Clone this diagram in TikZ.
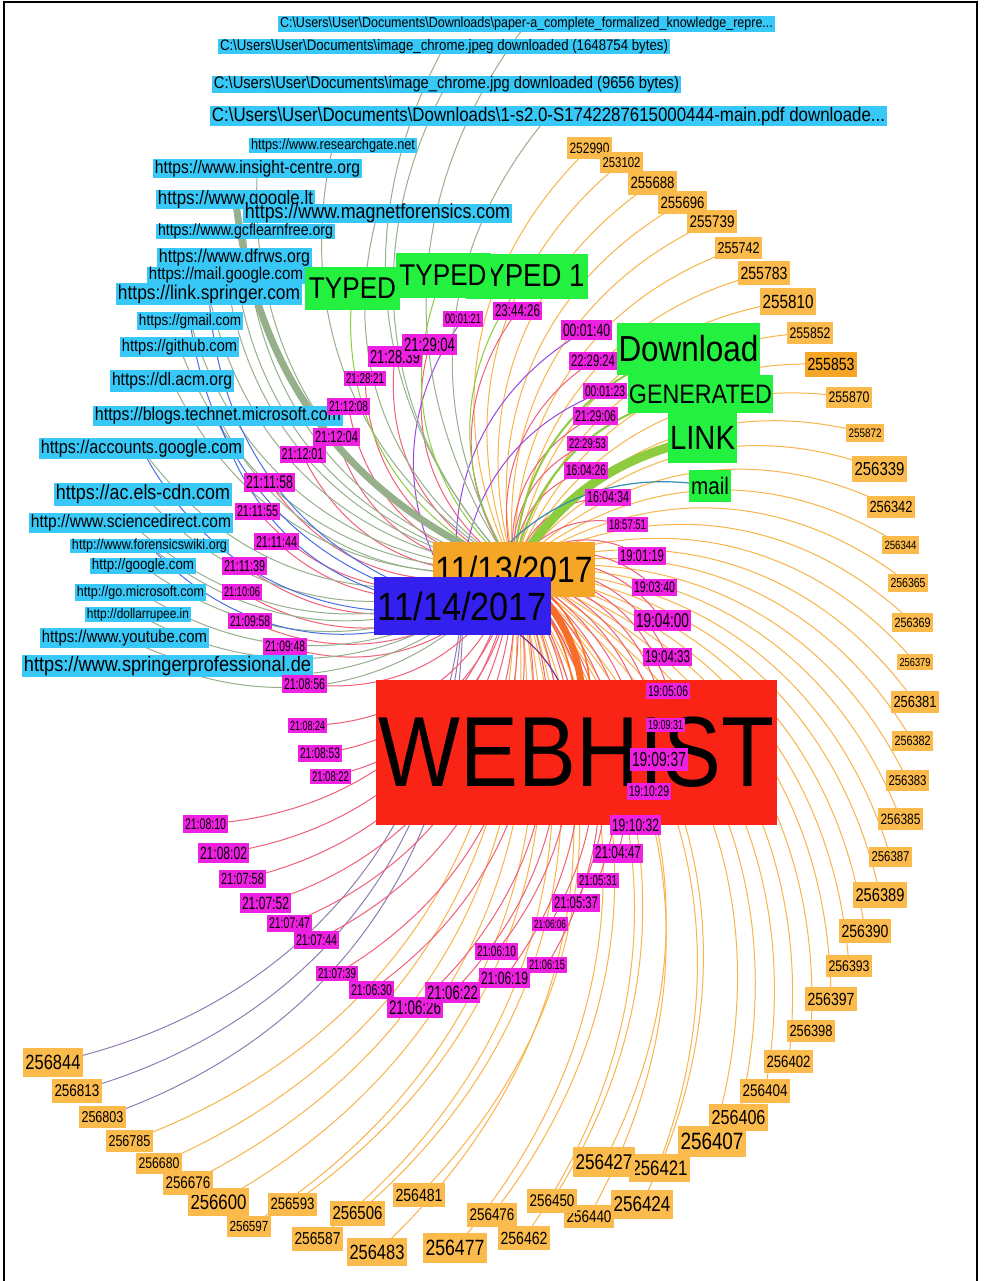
\documentclass[tikz,border=0pt]{standalone}
\usepackage{fontspec}
\setmainfont{Liberation Sans}[FakeStretch=0.87]
\newfontfamily\numfont{Liberation Sans}[FakeStretch=0.8]
\newfontfamily\timefont{Liberation Sans}[FakeStretch=0.68]
\usepackage{graphicx}
\pgfdeclarelayer{wires}
\pgfsetlayers{wires,main}

% node fills
\definecolor{cyanf}{RGB}{56,200,248}
\definecolor{magf}{RGB}{238,32,226}
\definecolor{numf}{RGB}{251,186,76}
\definecolor{grnf}{RGB}{36,240,64}
\definecolor{datef}{RGB}{246,166,38}
\definecolor{bluef}{RGB}{52,32,238}
\definecolor{redf}{RGB}{250,36,22}
% edge colours (blend of the two end colours)
\definecolor{eor}{RGB}{248,180,75}
\definecolor{egr}{RGB}{150,176,140}
\definecolor{epk}{RGB}{240,96,120}
\definecolor{ebl}{RGB}{72,110,228}
\definecolor{epu}{RGB}{150,72,228}
\definecolor{elv}{RGB}{146,124,176}
\definecolor{egn}{RGB}{140,204,62}
\definecolor{etl}{RGB}{52,140,176}
\definecolor{ero}{RGB}{248,110,40}
\definecolor{edk}{RGB}{120,50,150}

\newcommand\bs{\textbackslash}
% generic label: style, name, x, y, box width, box height, text width, text
\newcommand\gnode[8]{\node[#1, minimum width=#5pt, minimum height=#6pt] (#2) at (#3,-#4) {\resizebox{#7pt}{!}{#8}};}
% url label: name, x, y, box width, box height, text
\newcommand\urlnode[6]{\pgfmathsetmacro\tw{#4-4}\gnode{url}{#1}{#2}{#3}{#4}{#5}{\tw}{#6}}
% record number: id, x, y, box width
\newcommand\numnode[4]{\pgfmathsetmacro\hh{0.47*#4}\pgfmathsetmacro\tw{#4-5}\gnode{num}{n#1}{#2}{#3}{#4}{\hh}{\tw}{\numfont #1}}
% time stamp: id, text, x, y, box width
\newcommand\timenode[5]{\pgfmathsetmacro\hh{0.38*#5}\pgfmathsetmacro\tw{#5-4}\gnode{tim}{t#1}{#3}{#4}{#5}{\hh}{\tw}{\timefont #2}}

\begin{document}
\begin{tikzpicture}[x=1pt,y=1pt,
  box/.style={inner sep=0pt, outer sep=0pt, text=black},
  url/.style={box, fill=cyanf},
  num/.style={box, fill=numf},
  tim/.style={box, fill=magf},
  grn/.style={box, fill=grnf},
  wire/.style={line width=1pt, bend left=36},
  wor/.style={wire, draw=eor},
  wgr/.style={wire, draw=egr},
  wpk/.style={wire, draw=epk},
  wbl/.style={wire, draw=ebl},
  wpu/.style={wire, draw=epu},
  wlv/.style={wire, draw=elv},
  wgn/.style={wire, draw=egn},
]
\useasboundingbox (0,0) rectangle (985,-1281);

% ---------- web addresses and downloaded files ----------
\urlnode{rgate}{333}{145.5}{168}{15}{https://www.researchgate.net}
\urlnode{insight}{257.5}{168.5}{209}{19}{https://www.insight-centre.org}
\urlnode{googlelt}{235.5}{199.5}{159}{19}{https://www.google.lt}
\urlnode{magnet}{377.5}{213.5}{269}{18}{https://www.magnetforensics.com}
\urlnode{gcf}{245.5}{231.5}{179}{15}{https://www.gcflearnfree.org}
\urlnode{dfrws}{234.5}{257.5}{155}{19}{https://www.dfrws.org}
\urlnode{mailg}{226}{275.5}{158}{15}{https://mail.google.com}
\urlnode{linkspr}{209}{294}{186}{22}{https://link.springer.com}
\urlnode{gmail}{190}{321}{106}{18}{https://gmail.com}
\urlnode{github}{179.5}{347}{119}{20}{https://github.com}
\urlnode{dlacm}{172}{381}{124}{22}{https://dl.acm.org}
\urlnode{blogs}{218}{416}{250}{20}{https://blogs.technet.microsoft.com}
\urlnode{accounts}{141.5}{448.5}{205}{21}{https://accounts.google.com}
\urlnode{acels}{143}{494.5}{178}{23}{https://ac.els-cdn.com}
\urlnode{scidir}{131}{523}{204}{20}{http://www.sciencedirect.com}
\urlnode{fwiki}{149.5}{546}{159}{14}{http://www.forensicswiki.org}
\urlnode{googlecom}{143}{566}{106}{16}{http://google.com}
\urlnode{gomicro}{140.5}{592.5}{131}{17}{http://go.microsoft.com}
\urlnode{dollar}{138}{614.5}{106}{15}{http://dollarrupee.in}
\urlnode{youtube}{124.5}{638}{169}{20}{https://www.youtube.com}
\urlnode{springerpro}{167.5}{666}{291}{22}{https://www.springerprofessional.de}

\urlnode{fileA}{526.5}{24}{497}{16}{C:\bs Users\bs User\bs Documents\bs Downloads\bs paper-a\_complete\_formalized\_knowledge\_repre...}
\urlnode{fileB}{444}{47}{452}{15}{C:\bs Users\bs User\bs Documents\bs image\_chrome.jpeg downloaded (1648754 bytes)}
\urlnode{fileC}{446.5}{84.5}{469}{17}{C:\bs Users\bs User\bs Documents\bs image\_chrome.jpg downloaded (9656 bytes)}
\urlnode{fileD}{548.5}{116}{677}{20}{C:\bs Users\bs User\bs Documents\bs Downloads\bs 1-s2.0-S1742287615000444-main.pdf downloade...}

% ---------- event types ----------
\gnode{grn}{typedA}{352.5}{288.5}{95}{43}{87}{TYPED}
\gnode{grn}{typedC}{527}{276}{122}{45}{115}{TYPED 1}
\gnode{grn}{typedB}{443}{275.5}{95}{45}{87}{TYPED}
\gnode{grn}{download}{688.5}{349}{143}{52}{140}{Download}
\gnode{grn}{generated}{700.5}{394}{145}{38}{143}{GENERATED}
\gnode{grn}{link}{702.5}{438}{69}{50}{65}{LINK}
\gnode{grn}{mail}{710}{486}{42}{32}{38}{mail}

% ---------- dates and source ----------
\gnode{box, fill=datef}{d13}{514}{569}{162}{55}{157}{11/13/2017}
\gnode{box, fill=bluef}{d14}{462.5}{606}{177}{58}{169}{11/14/2017}
\gnode{box, fill=redf}{web}{576.5}{752.5}{401}{145}{395}{WEBHIST}

% ---------- record numbers ----------
\numnode{252990}{589.5}{148}{45}
\numnode{253102}{621.5}{162.5}{43}
\numnode{255688}{652.5}{183}{49}
\numnode{255696}{682.5}{202.5}{49}
\numnode{255739}{712}{221.5}{50}
\numnode{255742}{738.5}{248}{47}
\numnode{255783}{764}{273}{52}
\numnode{255810}{788}{301.5}{56}
\numnode{255852}{810}{333}{46}
\numnode{255853}{831}{364.5}{52}
\numnode{255870}{849}{397.5}{46}
\numnode{255872}{865}{433}{38}
\numnode{256339}{879.5}{469}{55}
\numnode{256342}{891}{507}{48}
\numnode{256344}{900.5}{545}{37}
\numnode{256365}{908}{583}{40}
\numnode{256369}{912.5}{622.5}{41}
\numnode{256379}{915}{662}{36}
\numnode{256381}{915}{702}{48}
\numnode{256382}{912.5}{741}{41}
\numnode{256383}{907.5}{780.5}{43}
\numnode{256385}{900.5}{819}{45}
\numnode{256387}{890.5}{857}{43}
\numnode{256389}{880}{895}{54}
\numnode{256390}{865}{931}{52}
\numnode{256393}{849}{966}{46}
\numnode{256397}{831}{999}{52}
\numnode{256398}{811}{1031}{48}
\numnode{256402}{788.5}{1061.5}{49}
\numnode{256404}{765}{1091}{50}
\numnode{256406}{738.5}{1117.5}{59}
\numnode{256407}{712}{1141.5}{68}
\numnode{256421}{659.5}{1168}{61}
\numnode{256427}{604}{1162}{62}
\numnode{256424}{642}{1204.5}{62}
\numnode{256440}{589}{1216.5}{50}
\numnode{256450}{552}{1201}{50}
\numnode{256462}{524}{1238}{52}
\numnode{256476}{492}{1215}{50}
\numnode{256477}{455}{1248}{64}
\numnode{256481}{419}{1195}{52}
\numnode{256483}{377}{1252}{60}
\numnode{256506}{357.5}{1213.5}{55}
\numnode{256587}{317.5}{1239}{51}
\numnode{256593}{292.5}{1204}{49}
\numnode{256597}{249}{1226.5}{44}
\numnode{256600}{218.5}{1202}{61}
\numnode{256676}{188}{1183}{50}
\numnode{256680}{159}{1163.5}{46}
\numnode{256785}{129.5}{1141}{47}
\numnode{256803}{102.5}{1117}{47}
\numnode{256813}{77}{1091}{50}
\numnode{256844}{53}{1062.5}{60}

% ---------- time stamps ----------
\timenode{000121}{00:01:21}{463}{319}{40}
\timenode{234426}{23:44:26}{517.5}{311}{49}
\timenode{212839}{21:28:39}{395}{356.5}{54}
\timenode{212904}{21:29:04}{429.5}{344.5}{55}
\timenode{212821}{21:28:21}{365}{378.5}{42}
\timenode{211208}{21:12:08}{348.5}{406.5}{43}
\timenode{211204}{21:12:04}{336.5}{437}{47}
\timenode{211201}{21:12:01}{302.5}{454.5}{46}
\timenode{211158}{21:11:58}{269.5}{482.5}{51}
\timenode{211155}{21:11:55}{257.5}{511.5}{45}
\timenode{211144}{21:11:44}{276.5}{541.5}{45}
\timenode{211139}{21:11:39}{244.5}{566}{45}
\timenode{211006}{21:10:06}{242}{592}{40}
\timenode{210958}{21:09:58}{250}{621}{44}
\timenode{210948}{21:09:48}{285}{646.5}{44}
\timenode{210856}{21:08:56}{304.5}{684}{45}
\timenode{210824}{21:08:24}{307.5}{725.5}{39}
\timenode{210853}{21:08:53}{320}{753.5}{44}
\timenode{210822}{21:08:22}{330.5}{776.5}{41}
\timenode{210810}{21:08:10}{205.5}{824}{45}
\timenode{210802}{21:08:02}{223.5}{853}{51}
\timenode{210758}{21:07:58}{242.5}{879}{47}
\timenode{210752}{21:07:52}{265.5}{903}{51}
\timenode{210747}{21:07:47}{289.5}{923.5}{45}
\timenode{210744}{21:07:44}{316.5}{940}{45}
\timenode{210739}{21:07:39}{337}{973.5}{42}
\timenode{210630}{21:06:30}{371.5}{990}{45}
\timenode{210626}{21:06:26}{415}{1007.5}{56}
\timenode{210622}{21:06:22}{452.5}{992.5}{55}
\timenode{210619}{21:06:19}{504.5}{978}{51}
\timenode{210615}{21:06:15}{547}{965}{40}
\timenode{210610}{21:06:10}{496.5}{951.5}{43}
\timenode{210606}{21:06:06}{550}{924}{36}
\timenode{210537}{21:05:37}{576}{903}{48}
\timenode{210531}{21:05:31}{598}{880.5}{42}
\timenode{210447}{21:04:47}{618}{853}{50}
\timenode{191032}{19:10:32}{635.5}{825}{51}
\timenode{191029}{19:10:29}{649}{791.5}{44}
\timenode{190937}{19:09:37}{659}{759.5}{58}
\timenode{190931}{19:09:31}{665.5}{725}{39}
\timenode{190506}{19:05:06}{668}{691}{44}
\timenode{190433}{19:04:33}{667.5}{657}{49}
\timenode{190400}{19:04:00}{662.5}{620.5}{57}
\timenode{190340}{19:03:40}{654.5}{587.5}{45}
\timenode{190119}{19:01:19}{642}{556}{48}
\timenode{185751}{18:57:51}{627.5}{524.5}{41}
\timenode{160434}{16:04:34}{608}{497.5}{46}
\timenode{160426}{16:04:26}{586}{470.5}{44}
\timenode{222953}{22:29:53}{587.5}{443.5}{41}
\timenode{212906}{21:29:06}{595.5}{416}{45}
\timenode{000123}{00:01:23}{605}{391}{44}
\timenode{222924}{22:29:24}{593}{361}{48}
\timenode{000140}{00:01:40}{586.5}{330}{51}

% ---------- connectors, on the layer below the labels ----------
\begin{pgfonlayer}{wires}
\fill[white] (0,0) rectangle (985,-1281);
\foreach \n in {252990,253102,255688,255696,255739,255742,255783,255810,255852,255853,255870,255872,256339,256342,256344,256365,256369,256379,256381,256382,256383,256385,256387,256389,256390,256393,256397,256398,256402,256404,256406,256407,256421,256427,256424,256450,256440,256462,256476,256477,256481,256483,256506,256587,256593,256597,256600,256676,256680,256785}
  \draw[wor] (d13.center) to (n\n.center);
\foreach \n in {256803,256813,256844}
  \draw[wlv] (d14.center) to (n\n.center);
\foreach \n in {234426,212839,212904,212821,211208,211204,211201,211158,211155,211144,211139,211006,210958,210948,210856,210824,210853,210822,210810,210802,210758,210752,210747,210744,210739,210630,210626,210622,210619,210615,210610,210606,210537,210531,210447,191032,191029,190937,190931,190506,190433,190400,190340,190119,185751,160434,160426,222953,212906,222924}
  \draw[wpk] (d13.center) to (t\n.center);
\foreach \n in {000121,000140,000123}
  \draw[wpu] (d14.center) to (t\n.center);
\foreach \n in {fileA,fileB,fileC,fileD,rgate,insight,magnet,gcf,dfrws,mailg,linkspr,gmail,github,dlacm,blogs,accounts,acels,scidir,fwiki,googlecom,gomicro,dollar,youtube,springerpro}
  \draw[wgr] (d13.center) to (\n.center);
\foreach \n in {gmail,linkspr,blogs,accounts,fwiki}
  \draw[wbl] (d14.center) to (\n.center);
\foreach \n in {typedA,typedB,typedC}
  \draw[wgn, line width=1pt] (d13.center) to (\n.center);
\draw[wgn, line width=2pt] (d13.center) to (download.center);
\draw[wgn, line width=2pt] (d13.center) to (generated.center);
\draw[wgn, line width=9pt, bend left=22] (d13.center) to (link.center);
\draw[wire, draw=etl, line width=1.2pt] (d14.center) to (mail.center);
\draw[wgr, line width=7pt, bend left=30] (d13.center) to (googlelt.center);
\draw[wire, draw=ero, line width=7pt, bend left=32] (d13.center) to (web.center);
\draw[wire, draw=ero, line width=1.5pt, bend left=22] (d13.center) to (web.center);
\draw[wire, draw=ero, line width=1.5pt, bend left=44] (d13.center) to (web.center);
\draw[wire, draw=edk, line width=1.2pt] (d14.center) to (web.center);
\end{pgfonlayer}
% this record label is shown in a deeper orange
\node[box, fill=datef, minimum width=52pt, minimum height=24.4pt] at (n255853.center) {\resizebox{47pt}{!}{\numfont 255853}};
\draw[line width=2pt] (4,-1281) -- (4,-2) -- (977,-2) -- (977,-1281);
\end{tikzpicture}
\end{document}
